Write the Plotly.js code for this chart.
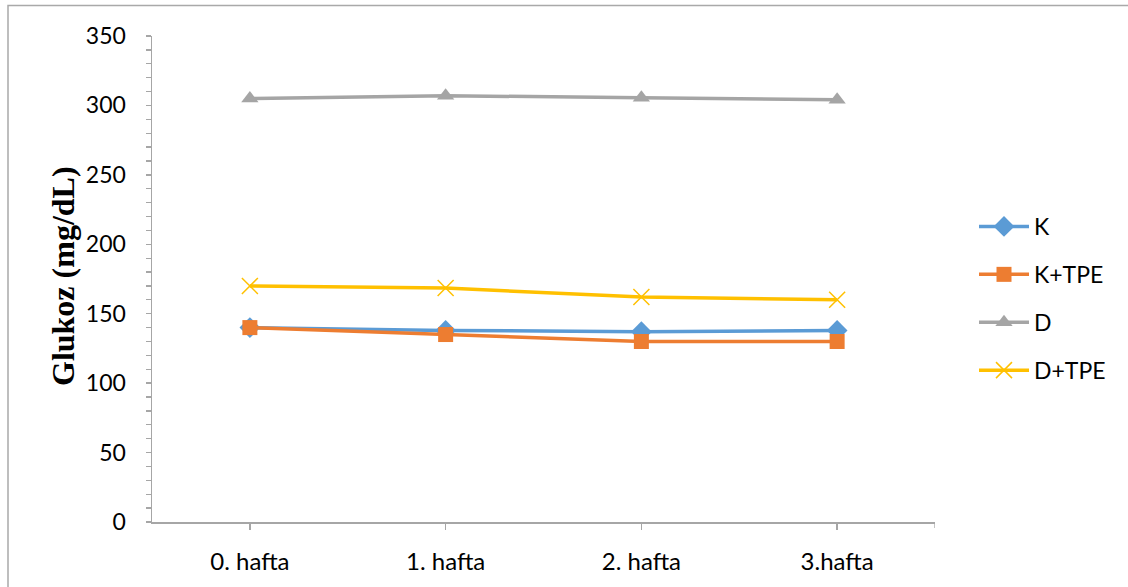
<!DOCTYPE html>
<html>
<head>
<meta charset="utf-8">
<script src="https://cdn.plot.ly/plotly-3.0.1.min.js"></script>
<style>
  html, body { margin: 0; padding: 0; background: #fff; }
  #chart { width: 1128px; height: 587px; }
</style>
</head>
<body>
<div id="chart"></div>
<script>
const weeks = ["0. hafta", "1. hafta", "2. hafta", "3.hafta"];
const seriesNames = ["K", "K+TPE", "D", "D+TPE"];
const valuesK = [140, 138, 137, 138];
const valuesKTPE = [140, 135, 130, 130];
const valuesD = [305, 307, 305.5, 304];
const valuesDTPE = [170, 168.5, 162, 160];
const yTickValues = [0, 50, 100, 150, 200, 250, 300, 350];
const yAxisTitle = "Glukoz (mg/dL)";

const colors = ["#5B9BD5", "#ED7D31", "#A5A5A5", "#FFC000"];
const symbols = ["diamond", "square", "triangle-up", "x-thin-open"];
const sizes = [16, 15, 15, 16];
const allValues = [valuesK, valuesKTPE, valuesD, valuesDTPE];

const traces = allValues.map((vals, i) => ({
  type: "scatter",
  mode: "lines+markers",
  name: seriesNames[i],
  legendgroup: "g" + i,
  x: weeks,
  y: vals,
  line: { color: colors[i], width: 3.5 },
  marker: {
    symbol: symbols[i],
    color: colors[i],
    size: sizes[i],
    line: i === 3 ? { color: colors[i], width: 1.5 } : { width: 0 }
  },
  hoverinfo: "x+y+name"
}));

// plot area pixels
const L = 152, R = 935, T = 36, B = 522, W = 1128, H = 587;
const px = v => (v - L) / (R - L);
const py = v => (B - v) / (B - T);

const axisColor = "#A6A6A6";

const layout = {
  width: W, height: H,
  margin: { l: L, r: W - R, t: T, b: H - B, pad: 0 },
  paper_bgcolor: "#fff",
  plot_bgcolor: "#fff",
  font: { family: "Lato, 'Open Sans', sans-serif", color: "#000", size: 22 },
  showlegend: true,
  legend: {
    x: px(974), y: py(205), xanchor: "left", yanchor: "top",
    font: { size: 23, color: "#000" },
    tracegroupgap: 15,
    bgcolor: "rgba(0,0,0,0)",
    itemwidth: 50
  },
  xaxis: {
    type: "category",
    range: [-0.5, 3.5],
    showgrid: false,
    zeroline: false,
    showline: true, linecolor: axisColor, linewidth: 1.5,
    ticks: "outside", ticklen: 6, tickcolor: axisColor, tickwidth: 1.3,
    tickfont: { size: 24 },
    ticklabelstandoff: 12,
    fixedrange: true
  },
  yaxis: {
    range: [0, 350],
    tickvals: yTickValues,
    showgrid: false,
    zeroline: false,
    showline: true, linecolor: axisColor, linewidth: 1.5,
    ticks: "outside", ticklen: 5, tickcolor: axisColor, tickwidth: 1.3,
    minor: { dtick: 10, ticks: "outside", ticklen: 5, tickcolor: axisColor, tickwidth: 1.3, showgrid: false },
    tickfont: { size: 23 },
    ticklabelstandoff: 15,
    fixedrange: true
  },
  annotations: [{
    xref: "paper", yref: "paper",
    x: px(63), y: py(276),
    xanchor: "center", yanchor: "middle",
    text: "<b>" + yAxisTitle + "</b>",
    textangle: -90,
    showarrow: false,
    font: { family: "'Liberation Serif', 'DejaVu Serif', serif", size: 32, color: "#000" }
  }],
  shapes: [
    { type: "rect", xref: "paper", yref: "paper",
      x0: px(8), x1: px(1140), y0: py(5.5), y1: py(600),
      line: { color: "#A9A9A9", width: 1.5 }, fillcolor: "rgba(0,0,0,0)", layer: "below" },
    { type: "line", xref: "x", yref: "paper",
      x0: 3.5, x1: 3.5, y0: 0, y1: py(B + 6),
      line: { color: axisColor, width: 1.3 } }
  ]
};

Plotly.newPlot("chart", traces, layout, { displayModeBar: false, staticPlot: true });
</script>
</body>
</html>
